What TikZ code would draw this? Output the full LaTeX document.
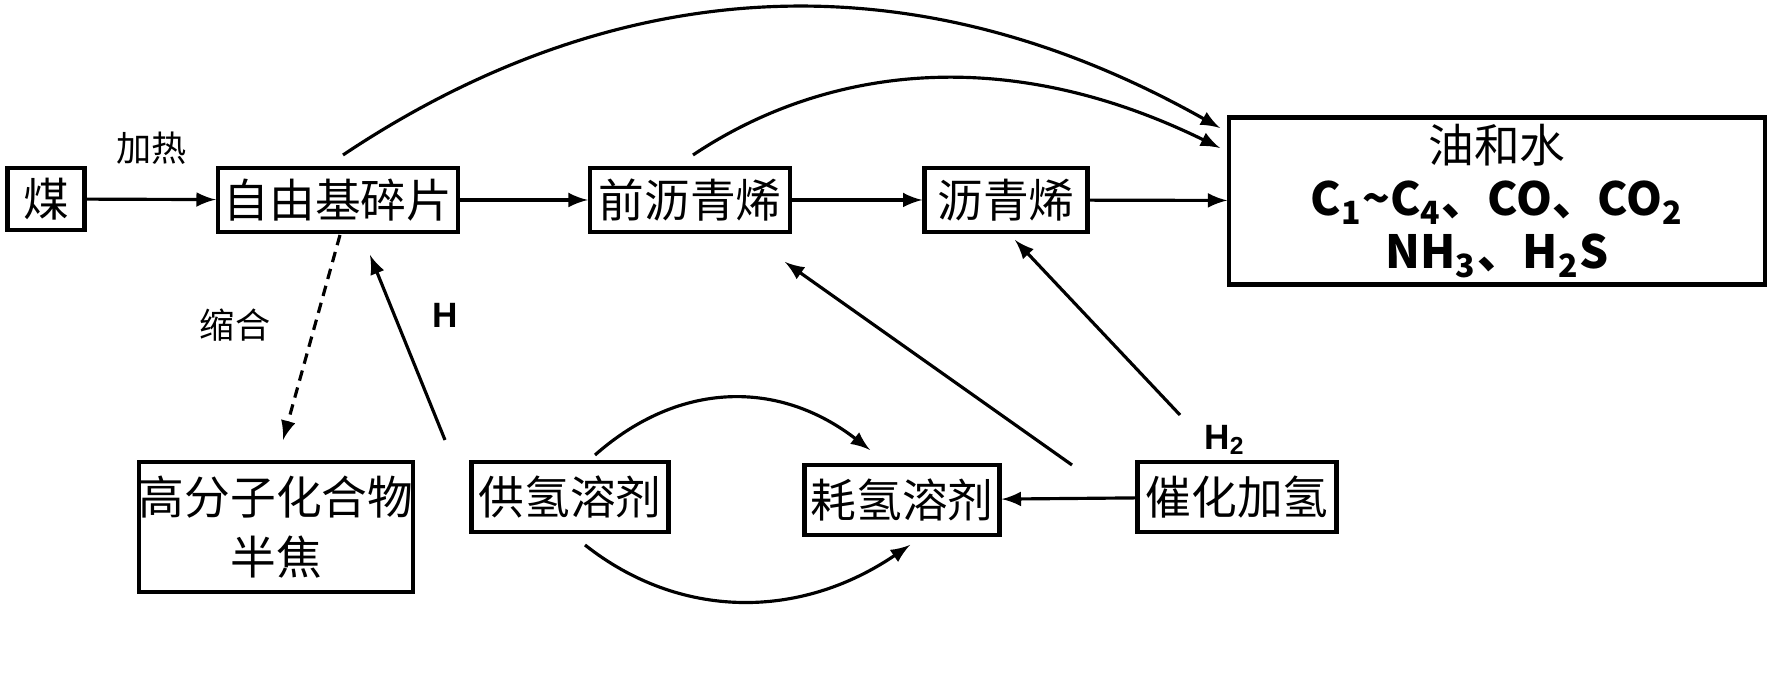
\documentclass[tikz,border=0pt]{standalone}
\usepackage{fontspec}
\setmainfont{Liberation Sans}
\newfontfamily\cjk{Noto Sans CJK SC}
\begin{document}
\begin{tikzpicture}[x=0.01cm,y=-0.01cm,
 box/.style={draw,line width=1.2pt,inner sep=0,align=center,font=\cjk\fontsize{13}{17}\selectfont},
 arr/.style={-latex,line width=0.9pt},
 lab/.style={font=\cjk\fontsize{10}{12}\selectfont},
 blab/.style={font=\bfseries\fontsize{10}{12}\selectfont}]
\useasboundingbox (0,0) rectangle (1772,680);
\node[box,minimum width=0.77cm,minimum height=0.62cm] (coal) at (46,199) {煤};
\node[box,minimum width=2.40cm,minimum height=0.64cm] (rad) at (338,200) {自由基碎片};
\node[box,minimum width=2.00cm,minimum height=0.64cm] (pre) at (690,200) {前沥青烯};
\node[box,minimum width=1.63cm,minimum height=0.64cm] (asp) at (1006,200) {沥青烯};
\node[box,minimum width=5.35cm,minimum height=1.67cm] (oil) at (1497,201) {油和水\\[-2pt]
 {\bfseries C\textsubscript{1}\textasciitilde C\textsubscript{4}{\cjk 、}CO{\cjk 、}CO\textsubscript{2}}\\[-2pt]
 {\bfseries NH\textsubscript{3}{\cjk 、}H\textsubscript{2}S}};
\node[box,minimum width=2.72cm,minimum height=1.30cm] (coke) at (276,527) {高分子化合物\\半焦};
\node[box,minimum width=1.97cm,minimum height=0.70cm] (don) at (570,497) {供氢溶剂};
\node[box,minimum width=1.95cm,minimum height=0.70cm] (con) at (902,500) {耗氢溶剂};
\node[box,minimum width=1.99cm,minimum height=0.70cm] (cat) at (1237,497) {催化加氢};
\coordinate (oilA) at (1220,128);
\coordinate (oilB) at (1220,148);
\draw[arr] (coal) -- (rad) node[midway,above=6pt,lab]{加热};
\draw[arr] (rad) -- (pre);
\draw[arr] (pre) -- (asp);
\draw[arr] (asp) -- (oil);
\draw[arr] (343,155) .. controls (560,10) and (860,-75) .. (oilA);
\draw[arr] (693,155) .. controls (820,70) and (1000,40) .. (oilB);
\draw[arr,densely dashed] (340,235) -- (283,440);
\node[lab] (sh) at (235,325) {缩合};
\draw[arr] (445,440) -- (370,255);
\node[blab] (h) at (445,315) {H};
\draw[arr] (1072,465) -- (785,262);
\draw[arr] (1180,415) -- (1015,240);
\node[blab] (h2) at (1225,440) {H\textsubscript{2}};
\draw[arr] (cat) -- (con);
\draw[arr] (595,455) .. controls (680,380) and (780,380) .. (870,450);
\draw[arr] (585,545) .. controls (680,620) and (800,620) .. (910,545);
\end{tikzpicture}
\end{document}
